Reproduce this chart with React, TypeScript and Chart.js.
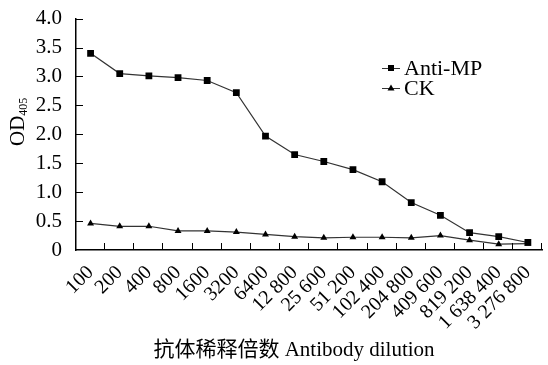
import React, { useEffect, useRef } from "react";
import { Chart, registerables } from "chart.js";

Chart.register(...registerables);

const dilutionLabels = [
  "100", "200", "400", "800", "1600", "3200", "6400", "12 800", "25 600",
  "51 200", "102 400", "204 800", "409 600", "819 200", "1 638 400", "3 276 800",
];
const antiMP = [3.40, 3.05, 3.01, 2.98, 2.93, 2.72, 1.97, 1.65, 1.53, 1.39, 1.18, 0.82, 0.60, 0.30, 0.23, 0.13];
const ck = [0.46, 0.41, 0.41, 0.33, 0.33, 0.31, 0.27, 0.23, 0.21, 0.22, 0.22, 0.21, 0.25, 0.17, 0.10, 0.11];
const seriesNames = ["Anti-MP", "CK"];
const yTitleMain = "OD";
const yTitleSub = "405";
const xTitle = "抗体稀释倍数 Antibody dilution";

const SERIF = "'Liberation Serif', 'Times New Roman', serif";
const CJK = "'Liberation Serif', 'Noto Sans CJK SC', serif";

const decorPlugin = {
  id: "decor",
  afterDraw(chart: any) {
    const ctx = chart.ctx;
    const { left, right, bottom } = chart.chartArea;
    const yScale = chart.scales.y;
    ctx.save();
    ctx.strokeStyle = "#000";
    ctx.lineWidth = 1;
    // inward y ticks
    yScale.ticks.forEach((t: any) => {
      if (t.value === 0) return;
      const y = Math.round(yScale.getPixelForValue(t.value)) + 0.5;
      ctx.beginPath();
      ctx.moveTo(left, y);
      ctx.lineTo(left + 7, y);
      ctx.stroke();
    });
    // inward x ticks at category boundaries
    const n = dilutionLabels.length;
    for (let i = 1; i <= n; i++) {
      const x = Math.round(left + ((right - left) * i) / n) - 0.5;
      ctx.beginPath();
      ctx.moveTo(x, bottom);
      ctx.lineTo(x, bottom - 7);
      ctx.stroke();
    }
    // legend
    const rows = [68, 88];
    chart.data.datasets.forEach((ds: any, i: number) => {
      const y = rows[i];
      ctx.strokeStyle = "#333";
      ctx.lineWidth = 1;
      ctx.beginPath();
      ctx.moveTo(382, y + 0.5);
      ctx.lineTo(400, y + 0.5);
      ctx.stroke();
      ctx.fillStyle = "#000";
      if (ds.pointStyle === "rect") {
        ctx.fillRect(388, y - 3, 6, 6);
      } else {
        ctx.beginPath();
        ctx.moveTo(391, y - 3.5);
        ctx.lineTo(394.5, y + 2.5);
        ctx.lineTo(387.5, y + 2.5);
        ctx.closePath();
        ctx.fill();
      }
      ctx.font = `22px ${SERIF}`;
      ctx.textAlign = "left";
      ctx.textBaseline = "middle";
      ctx.fillText(ds.label, 404, y + 1);
    });
    // y title with subscript
    ctx.save();
    ctx.translate(18, 146);
    ctx.rotate(-Math.PI / 2);
    ctx.fillStyle = "#000";
    ctx.textAlign = "left";
    ctx.textBaseline = "middle";
    ctx.font = `21px ${SERIF}`;
    ctx.fillText(yTitleMain, 0, 0);
    const w = ctx.measureText(yTitleMain).width;
    ctx.font = `12px ${SERIF}`;
    ctx.fillText(yTitleSub, w, 6);
    ctx.restore();
    // x title
    ctx.fillStyle = "#000";
    ctx.font = `21px ${CJK}`;
    ctx.textAlign = "center";
    ctx.textBaseline = "middle";
    ctx.fillText(xTitle, 294, 350);
    ctx.restore();
  },
};

export default function App() {
  const ref = useRef<HTMLCanvasElement>(null);
  useEffect(() => {
    document.body.style.margin = "0";
    const chart = new Chart(ref.current as HTMLCanvasElement, {
      type: "line",
      data: {
        labels: dilutionLabels,
        datasets: [
          {
            label: seriesNames[0],
            data: antiMP,
            borderColor: "#333",
            borderWidth: 1.2,
            pointStyle: "rect",
            pointRadius: 4.8,
            pointBackgroundColor: "#000",
            pointBorderColor: "#000",
            pointBorderWidth: 0,
            tension: 0,
          },
          {
            label: seriesNames[1],
            data: ck,
            borderColor: "#333",
            borderWidth: 1.2,
            pointStyle: "triangle",
            pointRadius: 4,
            pointBackgroundColor: "#000",
            pointBorderColor: "#000",
            pointBorderWidth: 0,
            tension: 0,
          },
        ],
      },
      options: {
        responsive: false,
        animation: false,
        layout: { padding: { top: 15, right: 0, left: 0, bottom: 0 } },
        plugins: { legend: { display: false }, tooltip: { enabled: false } },
        scales: {
          x: {
            type: "category",
            offset: true,
            grid: { display: false },
            border: { display: true, color: "#000", width: 1.5 },
            ticks: {
              minRotation: 45,
              maxRotation: 45,
              autoSkip: false,
              color: "#000",
              padding: 3,
              font: { family: SERIF, size: 20 },
            },
            afterFit: (s: any) => {
              s.height = 115;
            },
          },
          y: {
            min: 0,
            max: 4,
            grid: { display: false },
            border: { display: true, color: "#000", width: 1.5 },
            ticks: {
              stepSize: 0.5,
              color: "#000",
              padding: 6,
              font: { family: SERIF, size: 21 },
              callback: (v: any) => (Number(v) === 0 ? "0" : Number(v).toFixed(1)),
            },
            afterFit: (s: any) => {
              s.width = 76;
            },
          },
        },
      } as any,
      plugins: [decorPlugin],
    });
    return () => chart.destroy();
  }, []);
  return (
    <div style={{ width: 548, height: 365 }}>
      <canvas ref={ref} width={548} height={365} />
    </div>
  );
}
